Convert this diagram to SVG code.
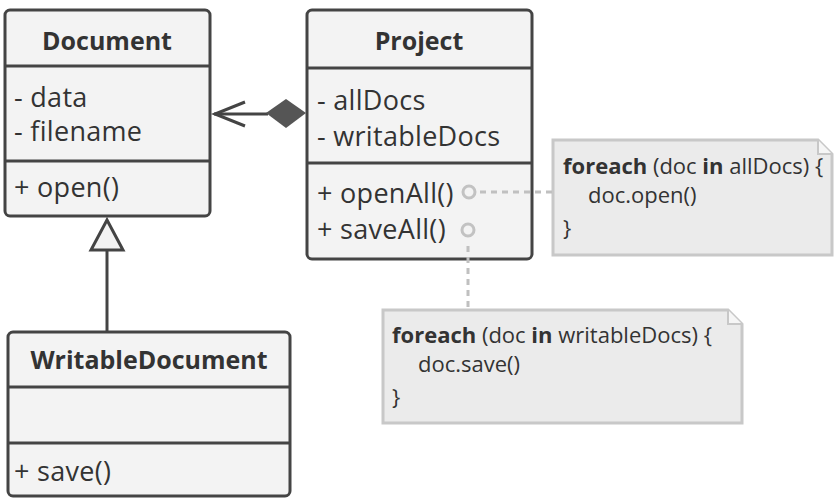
<svg xmlns="http://www.w3.org/2000/svg" width="834" height="499" viewBox="0 0 834 499">
<style>
.box{fill:#f3f3f3;stroke:#444;stroke-width:3}
.div{stroke:#444;stroke-width:3}
.t{font-family:"Open Sans","Liberation Sans",sans-serif;font-size:27px;letter-spacing:0.3px;fill:#333}
.h{font-family:"Open Sans","Liberation Sans",sans-serif;font-size:25px;font-weight:700;fill:#333;text-anchor:middle}
.note{fill:#ebebeb;stroke:#c8c8c8;stroke-width:3}
.n{font-family:"Open Sans","Liberation Sans",sans-serif;font-size:22px;fill:#333}
.dash{stroke:#c0c0c0;stroke-width:3;stroke-dasharray:6 5;fill:none}
.dot{fill:none;stroke:#c2c2c2;stroke-width:3}
.ln{stroke:#444;stroke-width:3;fill:none}
</style>
<g id="document">
<rect class="box" x="5" y="10" width="205" height="206" rx="5"/>
<line class="div" x1="5" y1="66" x2="210" y2="66"/>
<line class="div" x1="5" y1="161" x2="210" y2="161"/>
<text class="h" x="107" y="50">Document</text>
<text class="t" x="14" y="107">- data</text>
<text class="t" x="14" y="141">- filename</text>
<text class="t" x="14" y="197">+ open()</text>
</g>
<g id="project">
<rect class="box" x="307" y="10" width="225" height="249" rx="5"/>
<line class="div" x1="307" y1="68" x2="532" y2="68"/>
<line class="div" x1="307" y1="163" x2="532" y2="163"/>
<text class="h" x="419" y="50">Project</text>
<text class="t" x="317" y="110">- allDocs</text>
<text class="t" x="317" y="146">- writableDocs</text>
<text class="t" x="317" y="203">+ openAll()</text>
<text class="t" x="317" y="239">+ saveAll()</text>
</g>
<g id="writabledocument">
<rect class="box" x="8" y="332" width="282" height="164" rx="5"/>
<line class="div" x1="8" y1="387" x2="290" y2="387"/>
<line class="div" x1="8" y1="443" x2="290" y2="443"/>
<text class="h" x="149" y="369">WritableDocument</text>
<text class="t" x="14" y="481">+ save()</text>
</g>
<g id="note-openall">
<path class="note" d="M553,140 H818 L832,154 V255 H553 Z"/>
<path d="M818,140 V154 H832" fill="#f6f6f6" stroke="#c8c8c8" stroke-width="2"/>
<text class="n" x="563" y="174"><tspan font-weight="700">foreach</tspan> (doc <tspan font-weight="700">in</tspan> allDocs) {</text>
<text class="n" x="588" y="203">doc.open()</text>
<text class="n" x="563" y="236">}</text>
</g>
<g id="note-saveall">
<path class="note" d="M383,310 H728 L742,324 V423 H383 Z"/>
<path d="M728,310 V324 H742" fill="#f6f6f6" stroke="#c8c8c8" stroke-width="2"/>
<text class="n" x="392" y="343"><tspan font-weight="700">foreach</tspan> (doc <tspan font-weight="700">in</tspan> writableDocs) {</text>
<text class="n" x="418" y="372">doc.save()</text>
<text class="n" x="392" y="405">}</text>
</g>
<g id="connectors">
<line class="ln" x1="214" y1="114" x2="268" y2="114"/>
<polyline class="ln" points="245,102 215,114 245,126"/>
<polygon points="266,113 286,99 306,113 286,128" fill="#555"/>
<line class="ln" x1="107" y1="250" x2="107" y2="331"/>
<polygon points="107,220 91,250 123,250" fill="#f3f3f3" stroke="#444" stroke-width="3"/>
<circle class="dot" cx="469" cy="192" r="6"/>
<line class="dash" x1="480" y1="192" x2="552" y2="192"/>
<circle class="dot" cx="468" cy="230" r="6"/>
<line class="dash" x1="468" y1="246" x2="468" y2="308"/>
</g>
</svg>
